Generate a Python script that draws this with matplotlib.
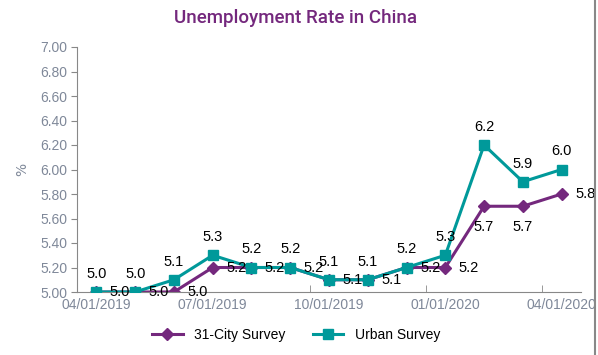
import numpy as np
import matplotlib.pyplot as plt
from matplotlib.lines import Line2D

months = ["04/01/2019", "05/01/2019", "06/01/2019", "07/01/2019", "08/01/2019",
          "09/01/2019", "10/01/2019", "11/01/2019", "12/01/2019", "01/01/2020",
          "02/01/2020", "03/01/2020", "04/01/2020"]
city31 = [5.0, 5.0, 5.0, 5.2, 5.2, 5.2, 5.1, 5.1, 5.2, 5.2, 5.7, 5.7, 5.8]
urban = [5.0, 5.0, 5.1, 5.3, 5.2, 5.2, 5.1, 5.1, 5.2, 5.3, 6.2, 5.9, 6.0]
yticks = [5.0, 5.2, 5.4, 5.6, 5.8, 6.0, 6.2, 6.4, 6.6, 6.8, 7.0]

purple = "#74287d"
teal = "#00999a"
gray_txt = "#7f8899"

fig = plt.figure(figsize=(5.98, 3.55), dpi=100)
ax = fig.add_axes([77/598, (355-292)/355, (581-77)/598, (292-47)/355])
x = np.arange(len(months))

ax.plot(x, city31, color=purple, lw=2.2, marker="D", ms=6, zorder=2)
ax.plot(x, urban, color=teal, lw=2.2, marker="s", ms=7, zorder=3)

# data labels: urban above, 31-city to the right (a few below)
for i, v in enumerate(urban):
    ax.annotate("%.1f" % v, (i, v), xytext=(0, 13), textcoords="offset points",
                ha="center", va="center", fontsize=10.5, family="Liberation Sans", zorder=5)
for i, v in enumerate(city31):
    off = (0, -15) if i in (10, 11) else (17, 0)
    ax.annotate("%.1f" % v, (i, v), xytext=off, textcoords="offset points",
                ha="center", va="center", fontsize=10.5, family="Liberation Sans", zorder=5)

ax.set_xlim(-0.5, len(months) - 0.5)
ax.set_ylim(5.0, 7.0)
ax.set_yticks(yticks)
ax.set_yticklabels(["%.2f" % t for t in yticks])
ax.set_xticks(x[::3])
ax.set_xticklabels(months[::3])
ax.set_xticks(np.arange(-0.5, len(months), 3), minor=True)
ax.tick_params(axis="x", which="major", length=0, pad=4)
ax.tick_params(axis="x", which="minor", length=5, color="#888888", direction="in")
ax.tick_params(axis="y", length=4, color="#888888", pad=3)
for lab in ax.get_xticklabels() + ax.get_yticklabels():
    lab.set_color(gray_txt)
    lab.set_fontsize(10)
    lab.set_family("Liberation Sans")
for s in ["top", "right"]:
    ax.spines[s].set_visible(False)
for s in ["left", "bottom"]:
    ax.spines[s].set_color("#888888")
ax.set_ylabel("%", color=gray_txt, fontsize=10, labelpad=8)

fig.text(296/598, 1 - 18/355, "Unemployment Rate in China", ha="center", va="center",
         color=purple, fontsize=13.5, family="Roboto", weight="medium")

handles = [Line2D([], [], color=purple, lw=2.2, marker="D", ms=6),
           Line2D([], [], color=teal, lw=2.2, marker="s", ms=7)]
fig.legend(handles, ["31-City Survey", "Urban Survey"], loc="center",
           bbox_to_anchor=(296/598, 1 - 335/355), ncol=2, frameon=False,
           prop={"family": "Liberation Sans", "size": 10}, handlelength=2.2,
           columnspacing=2.0)

fig.add_artist(Line2D([595/598, 595/598], [0, 1], transform=fig.transFigure,
                      color="#888888", lw=1.5))

fig.savefig("out.png", dpi=100, facecolor="white")
